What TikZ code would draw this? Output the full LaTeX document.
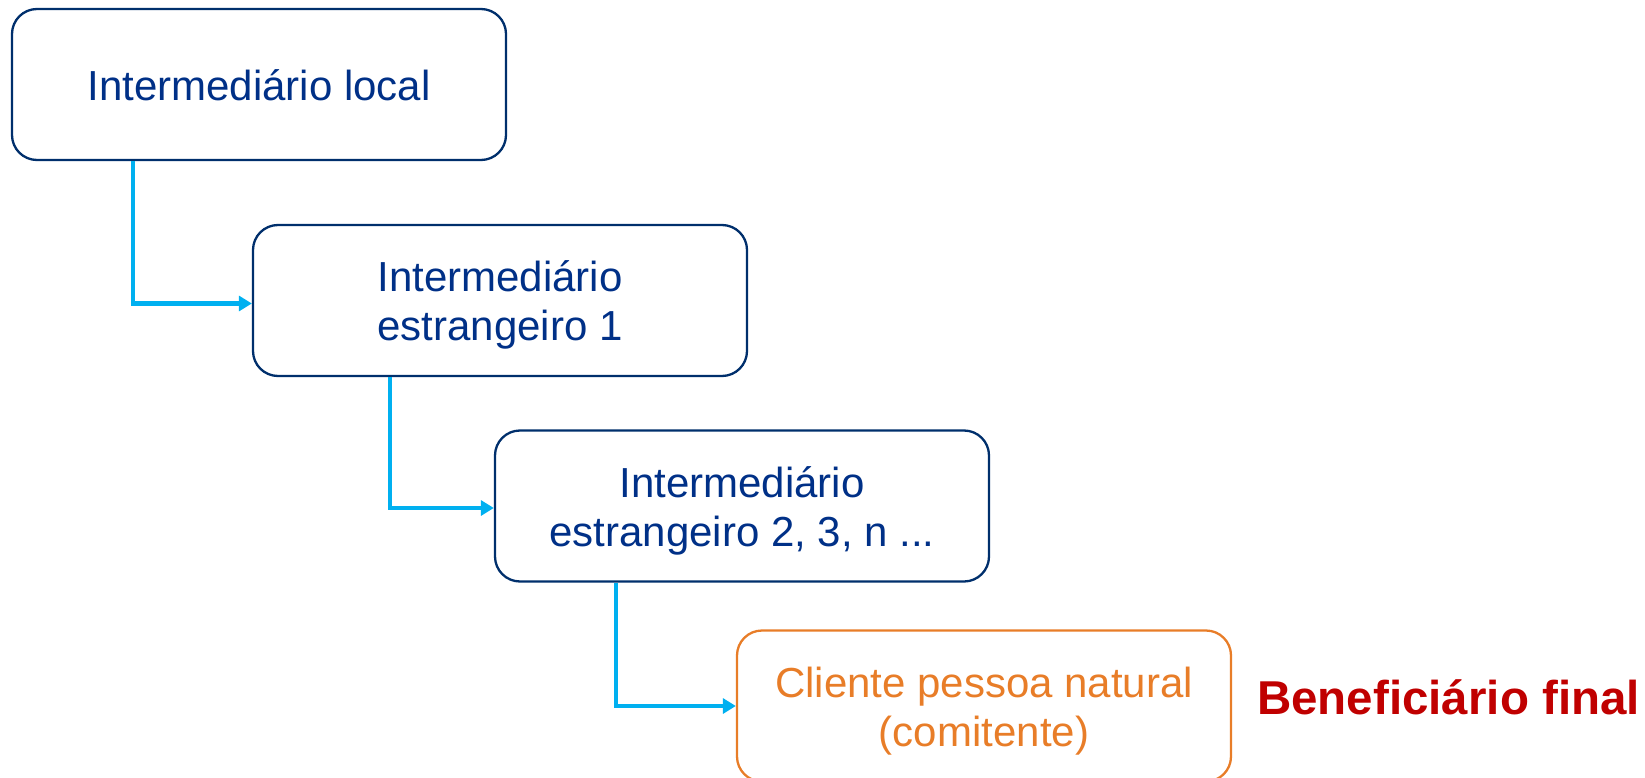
\documentclass[tikz,border=0pt]{standalone}
\usepackage{fontspec}
\setmainfont{Liberation Sans}
\usetikzlibrary{arrows.meta}
\definecolor{navy}{RGB}{0,47,108}
\definecolor{navytext}{RGB}{0,48,135}
\definecolor{cyanline}{RGB}{0,176,240}
\definecolor{orng}{RGB}{232,125,40}
\definecolor{darkred}{RGB}{192,0,0}
\newcommand{\boxtext}[1]{\raisebox{-6pt}[\height][\depth]{\begin{tabular}{@{}c@{}}#1\end{tabular}}}
\begin{document}
\begin{tikzpicture}[x=1pt,y=-1pt,
  box/.style={draw=navy, line width=2.3pt, rounded corners=25pt, minimum width=494pt,
    minimum height=151pt, inner sep=0pt, align=center, text=navytext,
    font=\fontsize{42}{49}\selectfont},
  conn/.style={draw=cyanline, line width=4.5pt, -{Triangle[length=13pt,width=15pt]}}]
\useasboundingbox (0,0) rectangle (1645,778);
\node[box] (b1) at (259,84.5) {\boxtext{Intermediário local}};
\node[box] (b2) at (500,300.5) {\boxtext{Intermediário\\estrangeiro 1}};
\node[box] (b3) at (742,506) {\boxtext{Intermediário\\estrangeiro 2, 3, n ...}};
\node[box, draw=orng, text=orng] (b4) at (984,706) {\boxtext{Cliente pessoa natural\\(comitente)}};
\node[font=\bfseries\fontsize{47.5}{56}\selectfont, text=darkred, anchor=west, inner sep=0pt] (bf) at (1257,697) {Beneficiário final};
\coordinate (c1) at (133,0);
\coordinate (c2) at (390,0);
\coordinate (c3) at (616,0);
\draw[conn] (b1.south -| c1) |- ([yshift=-3pt]b2.west);
\draw[conn] (b2.south -| c2) |- ([yshift=-2pt]b3.west);
\draw[conn] (b3.south -| c3) |- (b4.west);
\end{tikzpicture}
\end{document}
